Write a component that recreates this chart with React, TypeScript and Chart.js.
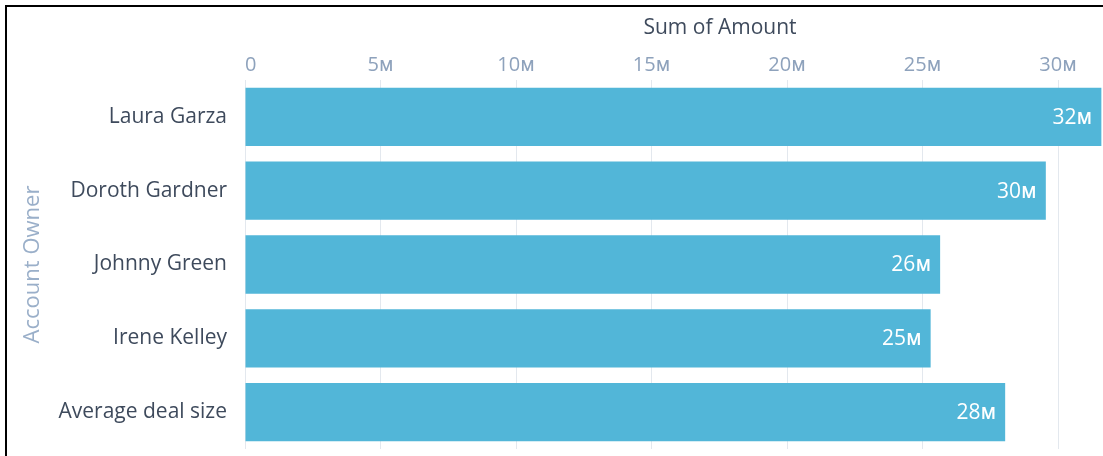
import React, { useEffect, useRef } from 'react';
import { Chart, registerables } from 'chart.js';

Chart.register(...registerables);

const owners = ['Laura Garza', 'Doroth Gardner', 'Johnny Green', 'Irene Kelley', 'Average deal size'];
const amounts = [31.6, 29.55, 25.65, 25.3, 28.05]; // millions
const tickValues = [0, 5, 10, 15, 20, 25, 30];
const xTitle = 'Sum of Amount';
const yTitle = 'Account Owner';
const axisMax = 31.66;

const FONT = '"Open Sans", "Noto Sans", "DejaVu Sans", sans-serif';
const fmt = (v: number) => (v === 0 ? '0' : `${Math.round(v)}ᴍ`);

const labelPlugin = {
  id: 'barLabels',
  afterDatasetsDraw(chart: any) {
    const ctx = chart.ctx;
    const meta = chart.getDatasetMeta(0);
    ctx.save();
    ctx.font = `500 21px ${FONT}`;
    ctx.fillStyle = '#ffffff';
    ctx.textAlign = 'right';
    ctx.textBaseline = 'middle';
    meta.data.forEach((bar: any, i: number) => {
      ctx.fillText(fmt(amounts[i]), bar.x - 9, bar.y + 1);
    });
    ctx.font = `21px ${FONT}`;
    ctx.fillStyle = '#3e4a5c';
    ctx.textAlign = 'center';
    ctx.fillText(xTitle, 720, 28);
    ctx.restore();
  },
};

export default function App() {
  const ref = useRef<HTMLCanvasElement | null>(null);
  useEffect(() => {
    if (!ref.current) return;
    const chart = new Chart(ref.current, {
      type: 'bar',
      data: {
        labels: owners,
        datasets: [
          {
            data: amounts,
            backgroundColor: '#52b6d8',
            borderWidth: 0,
            barPercentage: 0.79,
            categoryPercentage: 1,
          },
        ],
      },
      options: {
        indexAxis: 'y',
        animation: false,
        responsive: false,
        layout: { padding: { top: 0, left: 0, right: 0, bottom: 7 } },
        plugins: { legend: { display: false }, tooltip: { enabled: false } },
        scales: {
          x: {
            position: 'top',
            min: 0,
            max: axisMax,
            afterBuildTicks: (scale: any) => {
              scale.ticks = [...tickValues, axisMax].map((v) => ({ value: v }));
            },
            afterFit: (scale: any) => {
              scale.height = 80;
              scale.paddingLeft = 0;
              scale.paddingRight = 0;
            },
            ticks: {
              padding: 3,
              align: 'inner',
              color: '#8ea2bc',
              font: { family: FONT, size: 20 },
              callback: (v: any) => (tickValues.includes(Number(v)) ? fmt(Number(v)) : ''),
              maxRotation: 0,
              autoSkip: false,
            },
            grid: {
              color: (c: any) => (c.tick && c.tick.value === axisMax ? 'rgba(0,0,0,0)' : '#e3e8ee'),
              drawTicks: false,
              lineWidth: 1,
            },
            border: { display: false },
            title: { display: false },
          },
          y: {
            afterFit: (scale: any) => {
              scale.width = 245;
              scale.paddingTop = 0;
              scale.paddingBottom = 0;
            },
            ticks: {
              padding: 18,
              color: '#3e4a5c',
              font: { family: FONT, size: 21 },
            },
            grid: { display: false, drawTicks: false },
            border: { display: false },
            title: {
              display: true,
              text: yTitle,
              color: '#9aafc9',
              font: { family: FONT, size: 22 },
              padding: { top: 20, bottom: 0 },
            },
          },
        },
      },
      plugins: [labelPlugin],
    });
    return () => chart.destroy();
  }, []);

  return (
    <div
      style={{
        position: 'fixed',
        left: 0,
        top: 0,
        width: 1103,
        height: 456,
        overflow: 'hidden',
        background: '#ffffff',
      }}
    >
      <div
        style={{
          position: 'absolute',
          left: 5,
          top: 5,
          width: 1300,
          height: 700,
          border: '2px solid #000',
          boxSizing: 'border-box',
        }}
      />
      <canvas
        ref={ref}
        width={1103}
        height={456}
        style={{ position: 'absolute', left: 0, top: 0, width: 1103, height: 456 }}
      />
    </div>
  );
}
